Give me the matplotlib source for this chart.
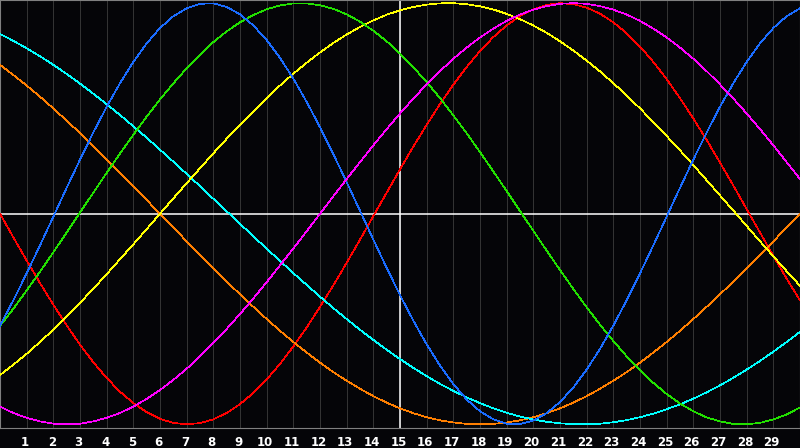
import numpy as np
import matplotlib
matplotlib.use("Agg")
import matplotlib.pyplot as plt

# values at every half step, x = 0 .. 30 (thousandths)
x_vals = np.arange(0, 30.01, 0.5)
tick_labels = [str(k) for k in range(1, 30)]

blue = [-531,-411,-283,-150,-14,123,257,386,508,620,721,809,882,938,976,997,999,982,947,894,825,740,642,531,411,283,150,14,-123,-257,-386,-508,-620,-721,-809,-882,-938,-976,-997,-999,-982,-947,-894,-825,-740,-642,-531,-411,-283,-150,-14,123,257,386,508,620,721,809,882,938,976]
green = [-533,-451,-364,-275,-183,-89,6,100,194,286,375,461,543,619,691,756,815,866,909,944,971,989,999,999,990,973,947,912,869,819,761,696,625,549,467,382,293,201,108,13,-81,-175,-267,-357,-444,-527,-604,-677,-744,-803,-856,-901,-938,-967,-986,-998,-1000,-993,-977,-953,-920]
yellow = [-766,-717,-665,-609,-550,-487,-423,-356,-287,-216,-145,-73,0,73,145,216,287,356,423,487,550,609,665,717,766,811,851,887,918,945,966,982,993,999,1000,995,985,970,949,924,894,859,819,775,727,676,620,562,500,436,369,301,231,159,87,15,-58,-131,-202,-273,-342]
red = [0,-112,-222,-329,-432,-530,-622,-705,-780,-845,-899,-942,-974,-993,-1000,-994,-976,-946,-904,-851,-787,-713,-630,-540,-442,-340,-233,-123,-11,100,211,319,422,521,613,697,773,839,894,939,971,992,1000,995,979,950,909,857,794,721,639,549,452,350,243,134,22,-89,-200,-308,-412]
magenta = [-916,-946,-969,-986,-997,-1000,-997,-986,-969,-946,-916,-879,-837,-789,-736,-677,-614,-547,-476,-402,-325,-245,-165,-83,0,83,165,245,325,402,476,547,614,677,736,789,837,879,916,946,969,986,997,1000,997,986,969,946,916,879,837,789,736,677,614,547,476,402,325,245,165]
cyan = [854,821,786,748,707,664,618,570,520,469,415,361,304,247,189,131,71,12,-48,-107,-166,-224,-282,-338,-394,-448,-500,-551,-599,-646,-690,-732,-771,-808,-841,-872,-899,-924,-945,-963,-977,-988,-995,-999,-1000,-997,-990,-980,-966,-949,-928,-905,-878,-848,-815,-779,-740,-699,-655,-609,-561]
orange = [707,659,609,556,500,442,383,321,259,195,131,65,0,-65,-131,-195,-259,-321,-383,-442,-500,-556,-609,-659,-707,-752,-793,-831,-866,-897,-924,-947,-966,-981,-991,-998,-1000,-998,-991,-981,-966,-947,-924,-897,-866,-831,-793,-752,-707,-659,-609,-556,-500,-442,-383,-321,-259,-195,-131,-65,0]

series = [("#ff0000", red), ("#ff7f00", orange), ("#00ffff", cyan), ("#ffff00", yellow),
          ("#22e000", green), ("#1a6cff", blue), ("#ff00ff", magenta)]

bg = "#050508"
fig = plt.figure(figsize=(8, 4.48), dpi=100, facecolor=bg)
ax = fig.add_axes([0, 20.5/448, 1, 427.5/448], facecolor=bg)

# thin vertical grid at every unit, white cross lines
for k in range(1, 30):
    ax.axvline(k, color="#333333", lw=0.75, zorder=1)
ax.axhline(0, color="white", lw=1.1, zorder=2)
ax.axvline(15, color="white", lw=1.1, zorder=2)

for c, vals in series:
    ax.plot(x_vals, np.array(vals) / 1000, color=c, lw=0.5, zorder=3, antialiased=False)

ax.set_xlim(0, 30)
ax.set_ylim(-1.015, 1.015)
ax.set_xticks(np.arange(1, 30) - 0.06)
ax.set_xticklabels(tick_labels, color="white", fontweight="bold", fontsize=8.5)
ax.tick_params(axis="x", length=0, pad=6)
ax.set_yticks([])
for s in ax.spines.values():
    s.set_color("#808080")

fig.savefig("out.png", dpi=100, facecolor=fig.get_facecolor())
